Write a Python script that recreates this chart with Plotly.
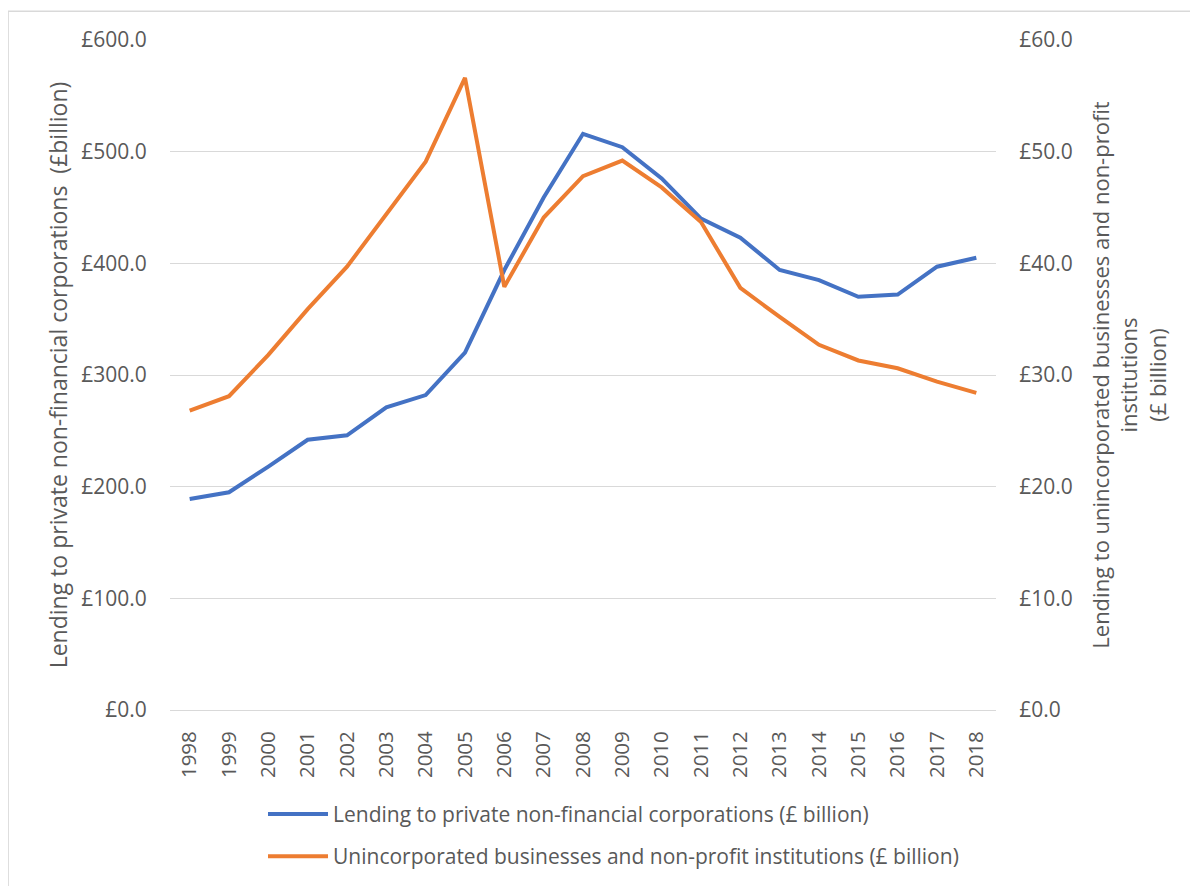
import plotly.graph_objects as go

years = [str(y) for y in range(1998, 2019)]
pnfc = [189, 195, 218, 242, 246, 271, 282, 320, 394, 459, 516, 504, 476, 440, 423, 394, 385, 370, 372, 397, 405]
unincorp = [26.8, 28.1, 31.8, 35.9, 39.7, 44.4, 49.1, 56.6, 37.9, 44.1, 47.8, 49.2, 46.8, 43.7, 37.8, 35.2, 32.7, 31.3, 30.6, 29.4, 28.4]

name1 = "Lending to private non-financial corporations (£ billion)"
name2 = "Unincorporated businesses and non-profit institutions (£ billion)"

FONT = "Open Sans"
GREY = "#595959"
CLEAR = "rgba(0,0,0,0)"

fig = go.Figure()
fig.add_trace(go.Scatter(x=years, y=pnfc, name=name1, mode="lines",
                         line=dict(color="#4472C4", width=4), legendgroup="a"))
fig.add_trace(go.Scatter(x=years, y=unincorp, name=name2, mode="lines", yaxis="y2",
                         line=dict(color="#ED7D31", width=4), legendgroup="b"))

fig.update_layout(
    width=1198, height=886,
    margin=dict(l=162, r=210, t=32, b=184),
    paper_bgcolor="white", plot_bgcolor="white",
    font=dict(family=FONT, size=21, color=GREY),
    showlegend=True,
    legend=dict(orientation="v", x=0.1126, y=-0.125, xanchor="left", yanchor="top",
                font=dict(size=21, color=GREY), tracegroupgap=12, itemwidth=60,
                bgcolor=CLEAR),
    xaxis=dict(type="category", range=[-0.5, 20.5], tickangle=-90, showgrid=False, showline=True,
               linecolor="#D9D9D9", linewidth=1, ticks="outside", ticklen=12, tickcolor=CLEAR,
               tickfont=dict(size=20.5, color=GREY), zeroline=False),
    yaxis=dict(range=[0, 600], dtick=100, tickformat=".1f", tickprefix="£",
               gridcolor="#D9D9D9", gridwidth=1, zeroline=False, showline=False,
               ticks="outside", ticklen=18, tickcolor=CLEAR, tickfont=dict(size=21, color=GREY),
               title=dict(text="Lending to private non-financial corporations  (£billion)",
                          font=dict(size=23, color=GREY), standoff=7)),
    yaxis2=dict(range=[0, 60], dtick=10, tickformat=".1f", tickprefix="£",
                overlaying="y", side="right", showgrid=False, zeroline=False,
                ticks="outside", ticklen=18, tickcolor=CLEAR,
                tickfont=dict(size=21, color=GREY),
                title=dict(text="Lending to unincorporated businesses and non-profit<br>institutions<br>(£ billion)",
                           font=dict(size=22, color=GREY), standoff=21)),
)

fig.add_shape(type="rect", xref="paper", yref="paper",
              x0=-0.196, x1=1.3, y0=-0.4, y1=1.043,
              line=dict(color="#D9D9D9", width=1.5), fillcolor=CLEAR, layer="below")

fig.write_html("out.html")
